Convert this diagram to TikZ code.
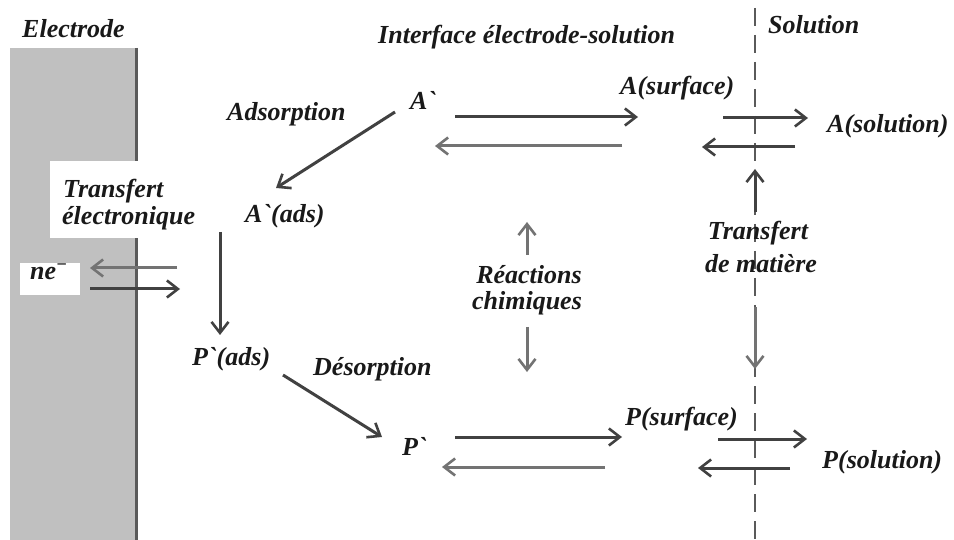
\documentclass[tikz,border=0pt]{standalone}
\usepackage{fontspec}
\newfontfamily\labfont{Liberation Serif}
\usetikzlibrary{arrows.meta}
\definecolor{electrodegray}{RGB}{192,192,192}
\definecolor{edgegray}{RGB}{90,90,90}
\definecolor{darkarrow}{RGB}{65,65,65}
\definecolor{lightarrow}{RGB}{115,115,115}
\definecolor{inkcol}{RGB}{25,25,25}
\tikzset{
  lab/.style={font=\labfont\fontsize{26}{31}\selectfont\bfseries\itshape,
    text=inkcol, inner sep=0pt, anchor=base west},
  labc/.style={lab, anchor=base},
  flow/.style={line width=3pt, darkarrow,
    -{Straight Barb[length=11pt,width=17pt,line width=2.6pt]}},
  backflow/.style={flow, lightarrow},
  border/.style={line width=2pt, edgegray, dash pattern=on 18pt off 9pt},
}
\begin{document}
\begin{tikzpicture}[x=1pt,y=-1pt]
\useasboundingbox[fill=white] (0,0) rectangle (954,540);

% electrode block and its surface line
\fill[electrodegray] (10,48) rectangle (137,540);
\draw[line width=3pt, edgegray] (136.5,48) -- (136.5,540);
\fill[white] (50,161) rectangle (205,238);
\fill[white] (20,263) rectangle (80,295);

% boundary between interface and solution
\draw[border] (755,8) -- (755,540);

% region titles
\node[lab] (telec) at (22,38) {Electrode};
\node[lab] (tinter) at (378,44) {Interface électrode-solution};
\node[lab] (tsol) at (768,34) {Solution};

% species
\node[lab] (Ap) at (410,110) {A\symbol{96}};
\node[lab] (Asurf) at (620,95) {A(surface)};
\node[lab] (Asol) at (827,133) {A(solution)};
\node[lab] (Aads) at (245,223) {A\symbol{96}(ads)};
\node[lab] (Pads) at (192,365) {P\symbol{96}(ads)};
\node[lab] (Pp) at (402,455) {P\symbol{96}};
\node[lab] (Psurf) at (625,425) {P(surface)};
\node[lab] (Psol) at (822,468) {P(solution)};
\node[lab] (ne) at (30,280) {ne\textsuperscript{−}};

% process labels
\node[lab] (tads) at (227,121) {Adsorption};
\node[lab] (tdes) at (313,375) {Désorption};
\node[lab] (tte1) at (63,198) {Transfert};
\node[lab] (tte2) at (62,225) {électronique};
\node[labc] (trc1) at (529,284) {Réactions};
\node[labc] (trc2) at (527,310) {chimiques};
\node[labc] (ttm1) at (758,240) {Transfert};
\node[labc] (ttm2) at (761,273) {de matière};

% arrow end points
\coordinate (a1s) at (455,117);  \coordinate (a1e) at (638,117);
\coordinate (a2s) at (622,146);  \coordinate (a2e) at (435,146);
\coordinate (a3s) at (723,118);  \coordinate (a3e) at (808,118);
\coordinate (a4s) at (795,147);  \coordinate (a4e) at (702,147);
\coordinate (p1s) at (455,437);  \coordinate (p1e) at (622,437);
\coordinate (p2s) at (605,467);  \coordinate (p2e) at (442,467);
\coordinate (p3s) at (718,439);  \coordinate (p3e) at (807,439);
\coordinate (p4s) at (790,468);  \coordinate (p4e) at (698,468);
\coordinate (ads1) at (395,112); \coordinate (ads2) at (276,188);
\coordinate (dn1) at (220,232);  \coordinate (dn2) at (220,335);
\coordinate (des1) at (283,375); \coordinate (des2) at (382,437);
\coordinate (ne1) at (177,268);  \coordinate (ne2) at (90,268);
\coordinate (ne3) at (90,289);   \coordinate (ne4) at (180,289);
\coordinate (rc1) at (527,255);  \coordinate (rc2) at (527,222);
\coordinate (rc3) at (527,327);  \coordinate (rc4) at (527,372);
\coordinate (tm1) at (755,212);  \coordinate (tm2) at (755,169);
\coordinate (tm3) at (755,307);  \coordinate (tm4) at (755,369);

% exchanges between species
\draw[flow] (a1s) -- (a1e);
\draw[backflow] (a2s) -- (a2e);
\draw[flow] (a3s) -- (a3e);
\draw[flow] (a4s) -- (a4e);
\draw[flow] (p1s) -- (p1e);
\draw[backflow] (p2s) -- (p2e);
\draw[flow] (p3s) -- (p3e);
\draw[flow] (p4s) -- (p4e);
\draw[flow] (ads1) -- (ads2);
\draw[flow] (dn1) -- (dn2);
\draw[flow] (des1) -- (des2);
\draw[backflow] (ne1) -- (ne2);
\draw[flow] (ne3) -- (ne4);
\draw[backflow] (rc1) -- (rc2);
\draw[backflow] (rc3) -- (rc4);
\draw[flow] (tm1) -- (tm2);
\draw[backflow] (tm3) -- (tm4);
\end{tikzpicture}
\end{document}
